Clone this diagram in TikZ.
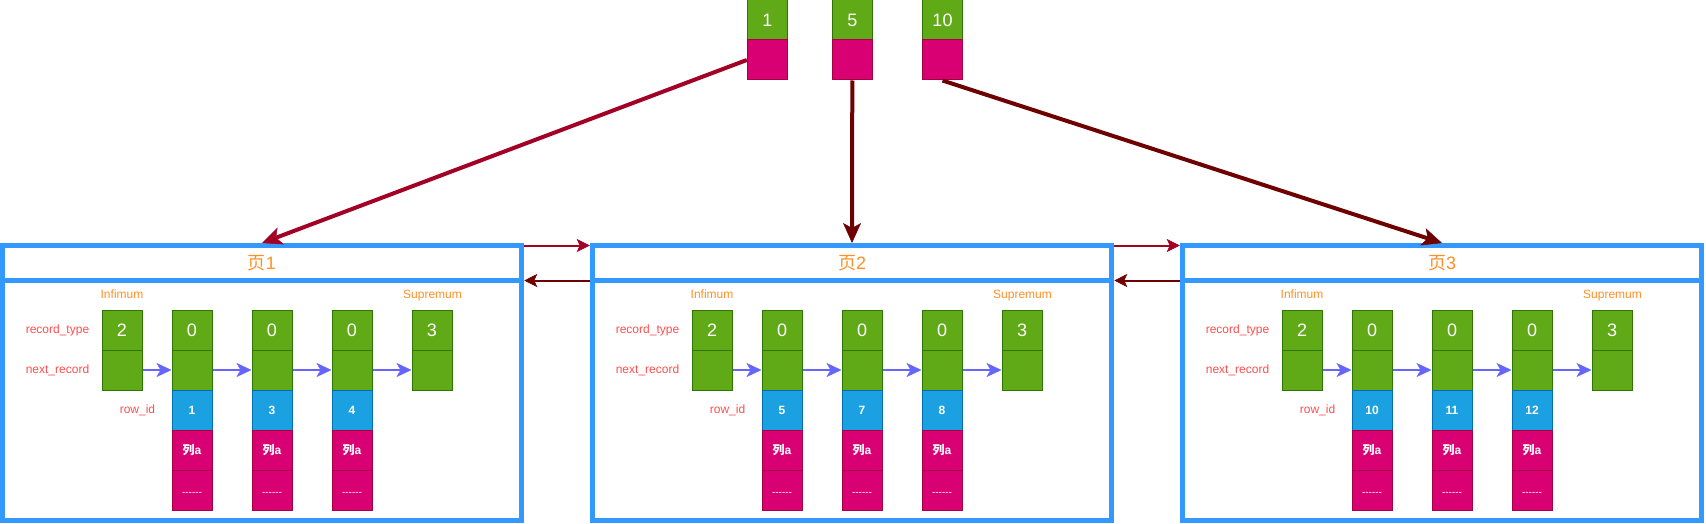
\documentclass[tikz,border=0pt]{standalone}
\usepackage{fontspec}
\setmainfont{Liberation Sans}
\newfontfamily\cjk{Noto Sans CJK SC}
\usetikzlibrary{arrows.meta}
\definecolor{gfill}{HTML}{60A917}
\definecolor{gdraw}{HTML}{2D7600}
\definecolor{bfill}{HTML}{1BA1E2}
\definecolor{bdraw}{HTML}{006EAF}
\definecolor{mfill}{HTML}{D80073}
\definecolor{mdraw}{HTML}{A50040}
\definecolor{frameblue}{HTML}{3399FF}
\definecolor{crimson}{HTML}{A20025}
\definecolor{darkred}{HTML}{6F0000}
\definecolor{recblue}{HTML}{6666FF}
\definecolor{lblorange}{HTML}{FF8F26}
\definecolor{lblred}{HTML}{FF4D4D}
\begin{document}
\begin{tikzpicture}[x=1pt,y=-1pt,
  cell/.style={draw, line width=1pt, minimum width=40pt, minimum height=40pt, inner sep=0pt, text=white},
  gcell/.style={cell, fill=gfill, draw=gdraw, font=\fontsize{18}{20}\selectfont},
  bcell/.style={cell, fill=bfill, draw=bdraw, font=\fontsize{12}{14}\selectfont\bfseries},
  mcell/.style={cell, fill=mfill, draw=mdraw, font=\fontsize{12}{14}\selectfont\bfseries},
  dcell/.style={cell, fill=mfill, draw=mdraw, font=\fontsize{10}{12}\selectfont, text height=10.8pt, text depth=0pt},
  framebox/.style={draw=frameblue, line width=5pt, minimum width=519.5pt, inner sep=0pt},
  titletext/.style={text=lblorange, font=\fontsize{18}{20}\selectfont},
  orangelbl/.style={text=lblorange, font=\fontsize{12}{14}\selectfont, inner sep=0pt, text height=8.6pt, text depth=2.5pt},
  redlbl/.style={text=lblred, font=\fontsize{12}{14}\selectfont, inner sep=0pt, text height=8.6pt, text depth=2.5pt},
  keylinkA/.style={draw=crimson, line width=4pt, -{Stealth[length=20pt, width=18pt, inset=5pt, line width=0.5pt]}},
  keylinkB/.style={draw=darkred, line width=4pt, -{Stealth[length=20pt, width=18pt, inset=5pt, line width=0.5pt]}},
  pagefwd/.style={draw=crimson, line width=2pt, -{Stealth[length=13pt, width=13pt, inset=3pt, line width=0.5pt]}},
  pageback/.style={draw=darkred, line width=2pt, -{Stealth[length=13pt, width=13pt, inset=3pt, line width=0.5pt]}},
  reclink/.style={draw=recblue, line width=2.7pt, -{Stealth[length=15pt, width=14pt, inset=4pt, line width=0.5pt]}}
]
\useasboundingbox (0,0) rectangle (1706,524);

% top keys
\node[gcell] (k1g) at (767.3,20) {1};
\node[cell, fill=mfill, draw=mdraw] (k1m) at (767.3,60) {};
\node[gcell] (k5g) at (852.3,20) {5};
\node[cell, fill=mfill, draw=mdraw] (k5m) at (852.3,60) {};
\node[gcell] (k10g) at (942.5,20) {10};
\node[cell, fill=mfill, draw=mdraw] (k10m) at (942.5,60) {};

% pages
\foreach \p/\dx/\a/\b/\c in {1/0/1/3/4, 2/590/5/7/8, 3/1180/10/11/12}{
  \node[framebox, minimum height=35pt] (h\p) at ({262+\dx},263) {};
  \node[titletext] (t\p) at ({262+\dx},263) {{\cjk 页}\p};
  \node[framebox, minimum height=240pt] (b\p) at ({262+\dx},400.5) {};
  \node[orangelbl] (inflbl\p) at ({122+\dx},295) {Infimum};
  \node[orangelbl] (suplbl\p) at ({432.5+\dx},295) {Supremum};
  \node[redlbl] (rt\p) at ({57.5+\dx},330) {record\_type};
  \node[redlbl] (nr\p) at ({57.5+\dx},370) {next\_record};
  \node[redlbl] (ri\p) at ({137.5+\dx},410) {row\_id};
  \node[gcell] (inf\p t) at ({122+\dx},330) {2};
  \node[gcell] (inf\p n) at ({122+\dx},370) {};
  \node[gcell] (sup\p t) at ({432+\dx},330) {3};
  \node[gcell] (sup\p n) at ({432+\dx},370) {};
  \foreach \i/\x/\id in {1/192/\a, 2/272/\b, 3/352/\c}{
    \node[gcell] (r\p\i t) at ({\x+\dx},330) {0};
    \node[gcell] (r\p\i n) at ({\x+\dx},370) {};
    \node[bcell] (r\p\i i) at ({\x+\dx},410) {\id};
    \node[mcell] (r\p\i a) at ({\x+\dx},450) {{\cjk 列}a};
    \node[dcell] (r\p\i d) at ({\x+\dx},490) {{-}{-}{-}{-}{-}{-}};
  }
  \draw[reclink] (inf\p n.east) -- (r\p1n.west);
  \draw[reclink] (r\p1n.east) -- (r\p2n.west);
  \draw[reclink] (r\p2n.east) -- (r\p3n.west);
  \draw[reclink] (r\p3n.east) -- (sup\p n.west);
}

% page links
\draw[pagefwd] ([yshift=-2.5pt]h1.north east) -- ([yshift=-2.5pt]h2.north west);
\draw[pageback] ([yshift=-2.5pt]b2.north west) -- ([yshift=-2.5pt]b1.north east);
\draw[pagefwd] ([yshift=-2.5pt]h2.north east) -- ([yshift=-2.5pt]h3.north west);
\draw[pageback] ([yshift=-2.5pt]b3.north west) -- ([yshift=-2.5pt]b2.north east);

% key links
\draw[keylinkA] (k1m.west) -- (h1.north);
\draw[keylinkB] (k5m.south) -- (h2.north);
\draw[keylinkB] (k10m.south) -- (h3.north);
\end{tikzpicture}
\end{document}
